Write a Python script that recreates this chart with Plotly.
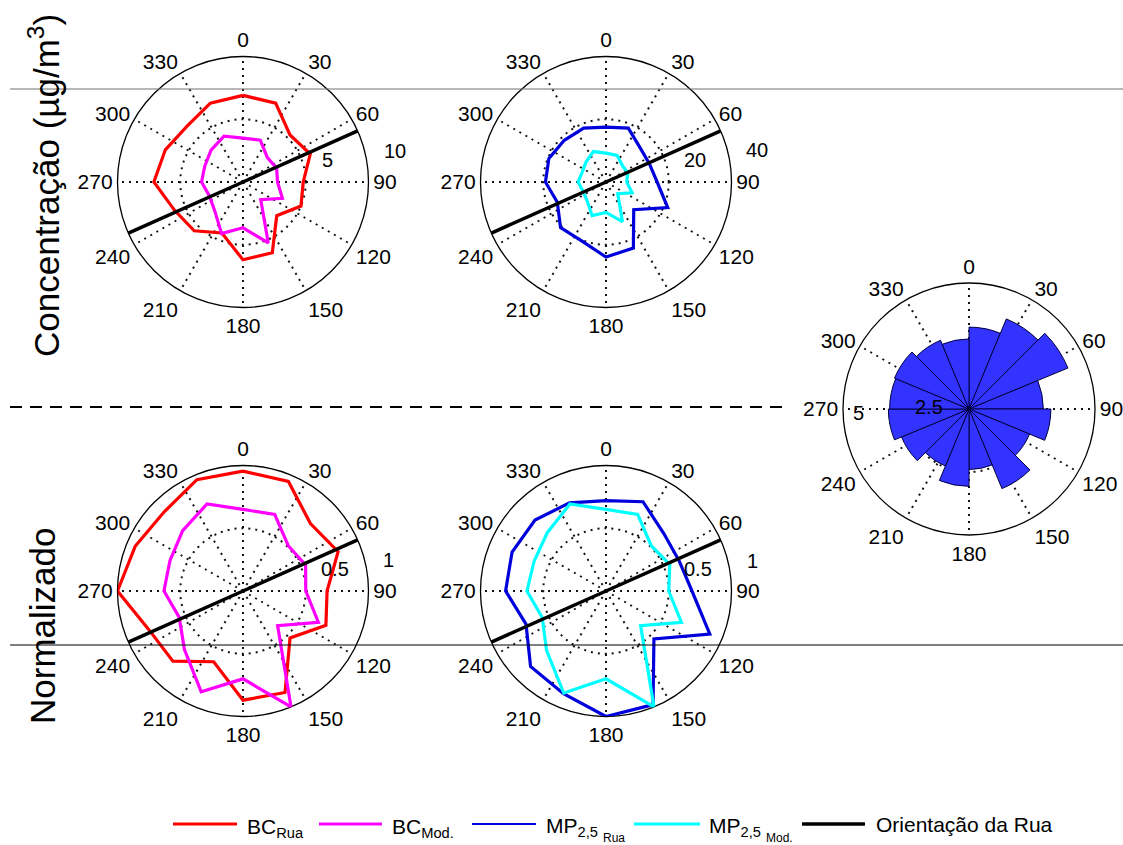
import plotly.graph_objects as go

# Wind directions (degrees, clockwise from north)
directions = [0, 22.5, 45, 67.5, 90, 112.5, 135, 157.5,
              180, 202.5, 225, 247.5, 270, 292.5, 315, 337.5]

# Mean concentrations by wind direction (µg/m3)
bc_rua_conc = [6.9, 6.8, 5.3, 5.8, 4.8, 5.0, 3.8, 6.1, 6.2, 4.4, 5.5, 5.9, 7.1, 6.7, 6.3, 6.8]
bc_mod_conc = [3.5, 3.6, 2.75, 2.9, 2.75, 3.4, 2.0, 5.26, 3.65, 4.45, 3.2, 2.9, 3.3, 3.3, 3.6, 3.95]
mp_rua_conc = [17.5, 18.6, 15.4, 15.0, 16.3, 21.3, 12.5, 22.8, 23.9, 20.3, 20.5, 16.8, 19.3, 19.7, 18.8, 18.6]
mp_mod_conc = [9.2, 9.2, 7.4, 7.5, 6.6, 9.0, 5.3, 13.7, 9.7, 11.6, 8.5, 7.9, 8.9, 8.2, 9.0, 10.5]

# Normalised values (fraction of each series' maximum)
bc_rua_norm = [0.955, 0.945, 0.76, 0.82, 0.67, 0.715, 0.53, 0.875, 0.87, 0.61, 0.79, 0.81, 1.0, 0.93, 0.89, 0.96]
bc_mod_norm = [0.65, 0.66, 0.51, 0.54, 0.50, 0.65, 0.39, 1.0, 0.70, 0.87, 0.66, 0.55, 0.63, 0.63, 0.68, 0.75]
mp_rua_norm = [0.72, 0.77, 0.65, 0.63, 0.685, 0.895, 0.54, 0.98, 1.0, 0.885, 0.85, 0.69, 0.80, 0.81, 0.80, 0.76]
mp_mod_norm = [0.65, 0.66, 0.51, 0.55, 0.50, 0.65, 0.39, 1.0, 0.70, 0.88, 0.67, 0.55, 0.63, 0.62, 0.66, 0.75]

# Wind rose: frequency per 22.5-degree sector
rose_centres = [11.25, 33.75, 56.25, 78.75, 101.25, 123.75, 146.25, 168.75,
                191.25, 213.75, 236.25, 258.75, 281.25, 303.75, 326.25, 348.75]
rose_freq = [3.25, 3.87, 4.25, 2.95, 3.25, 2.6, 3.42, 2.4,
             3.07, 2.45, 2.9, 3.2, 3.15, 3.2, 2.95, 2.78]

# Street orientation (degrees)
street_dir = [66, 246]

angle_ticks = [0, 30, 60, 90, 120, 150, 180, 210, 240, 270, 300, 330]

W, H = 1123, 845
FONT = "Liberation Sans, Arial, sans-serif"

RED, MAGENTA, BLUE, CYAN = "#ff0000", "#ff00ff", "#0000dd", "#00ffff"
GRID_DASH = "2px,5px"


def xp(x):
    return x / W


def yp(y):
    return 1 - y / H


panels = {
    "polar": dict(c=(243, 182), R=125.5, rmax=10, ring=5, labels=("5", "10")),
    "polar2": dict(c=(606, 182), R=125.5, rmax=40, ring=20, labels=("20", "40")),
    "polar3": dict(c=(243, 591), R=125.5, rmax=1, ring=0.5, labels=("0.5", "1")),
    "polar4": dict(c=(606, 591), R=125.5, rmax=1, ring=0.5, labels=("0.5", "1")),
    "polar5": dict(c=(969, 409), R=126, rmax=5, ring=2.5, labels=("2.5", "5")),
}


def closed(vals):
    return list(vals) + [vals[0]]


fig = go.Figure()


def line_trace(vals, color, subplot, width=3.2):
    fig.add_trace(go.Scatterpolar(
        r=closed(vals), theta=closed(directions), mode="lines",
        line=dict(color=color, width=width), subplot=subplot,
        showlegend=False, hoverinfo="skip"))


def street_trace(subplot, rmax):
    fig.add_trace(go.Scatterpolar(
        r=[rmax, 0, rmax], theta=[street_dir[0], street_dir[0], street_dir[1]],
        mode="lines", line=dict(color="black", width=3.5), subplot=subplot,
        showlegend=False, hoverinfo="skip"))


# Concentration panels
line_trace(bc_rua_conc, RED, "polar")
line_trace(bc_mod_conc, MAGENTA, "polar")
street_trace("polar", 10)
line_trace(mp_rua_conc, BLUE, "polar2")
line_trace(mp_mod_conc, CYAN, "polar2")
street_trace("polar2", 40)

# Normalised panels
line_trace(bc_rua_norm, RED, "polar3")
line_trace(bc_mod_norm, MAGENTA, "polar3")
street_trace("polar3", 1)
line_trace(mp_rua_norm, BLUE, "polar4")
line_trace(mp_mod_norm, CYAN, "polar4")
street_trace("polar4", 1)

# Wind rose
fig.add_trace(go.Barpolar(
    r=rose_freq, theta=rose_centres, width=[22.5] * len(rose_freq),
    marker=dict(color="#3333ff", line=dict(color="#000040", width=1)),
    subplot="polar5", showlegend=False, hoverinfo="skip"))

layout = dict(
    width=W, height=H, paper_bgcolor="white", plot_bgcolor="white",
    margin=dict(l=0, r=0, t=0, b=0), showlegend=False,
    font=dict(family=FONT, color="black", size=16),
)

annotations = []
for name, p in panels.items():
    cx, cy = p["c"]
    R = p["R"]
    layer = "above traces" if name == "polar5" else "below traces"
    layout[name] = dict(
        domain=dict(x=[xp(cx - R), xp(cx + R)], y=[yp(cy + R), yp(cy - R)]),
        bgcolor="rgba(0,0,0,0)",
        angularaxis=dict(
            rotation=90, direction="clockwise", tickmode="array",
            tickvals=angle_ticks, ticktext=[str(a) for a in angle_ticks],
            ticks="", showline=True, linecolor="black", linewidth=1.3,
            showgrid=True, gridcolor="#111111", griddash=GRID_DASH, gridwidth=1.7,
            tickfont=dict(size=21, family=FONT, color="black"),
            layer=layer,
        ),
        radialaxis=dict(
            range=[0, p["rmax"]], tickmode="array", tickvals=[p["ring"]],
            showticklabels=False, ticks="", showline=False,
            tickfont=dict(size=16),
            showgrid=True, gridcolor="#111111", griddash=GRID_DASH, gridwidth=1.7,
            layer=layer,
        ),
    )

# Radial scale labels
radial_label_pos = {
    "polar": [(327, 160), (395, 151)],
    "polar2": [(695, 160), (757, 150)],
    "polar3": [(335, 569), (388, 560)],
    "polar4": [(698, 569), (752, 561)],
    "polar5": [(929, 407), (858, 413)],
}
for name, pos in radial_label_pos.items():
    for txt, (x, y) in zip(panels[name]["labels"], pos):
        annotations.append(dict(
            x=xp(x), y=yp(y), xref="paper", yref="paper", text=txt,
            showarrow=False, font=dict(size=20, family=FONT, color="black"),
            xanchor="center", yanchor="middle"))

# Row titles
annotations.append(dict(
    x=xp(44), y=yp(186), xref="paper", yref="paper",
    text="Concentração (µg/m<sup>3</sup>)", textangle=-90, showarrow=False,
    font=dict(size=35, family=FONT, color="black"), xanchor="center", yanchor="middle"))
annotations.append(dict(
    x=xp(42), y=yp(626), xref="paper", yref="paper",
    text="Normalizado", textangle=-90, showarrow=False,
    font=dict(size=35, family=FONT, color="black"), xanchor="center", yanchor="middle"))

shapes = [
    # separators
    dict(type="line", xref="paper", yref="paper", x0=xp(10), x1=1, y0=yp(89), y1=yp(89),
         line=dict(color="#707070", width=1), layer="above"),
    dict(type="line", xref="paper", yref="paper", x0=xp(10), x1=1, y0=yp(645), y1=yp(645),
         line=dict(color="black", width=1), layer="above"),
    dict(type="line", xref="paper", yref="paper", x0=xp(10), x1=xp(790), y0=yp(407), y1=yp(407),
         line=dict(color="black", width=2, dash="12px,8px"), layer="above"),
]

# Legend drawn below the panels
LEG_Y = 824
legend_items = [
    (RED, 3.2, 173, 237),
    (MAGENTA, 3.2, 319, 382),
    (BLUE, 2.0, 472, 536),
    (CYAN, 3.2, 634, 700),
    ("black", 3.5, 802, 865),
]
for color, w, x0, x1 in legend_items:
    shapes.append(dict(type="line", xref="paper", yref="paper", x0=xp(x0), x1=xp(x1),
                       y0=yp(LEG_Y), y1=yp(LEG_Y), line=dict(color=color, width=w)))

LEG_FONT = dict(size=21, family=FONT, color="black")
SUB_FONT = dict(size=12, family=FONT, color="black")
legend_texts = [
    (245, LEG_Y + 4, "BC<sub>Rua</sub>", LEG_FONT),
    (390, LEG_Y + 4, "BC<sub>Mod.</sub>", LEG_FONT),
    (544, LEG_Y + 3, "MP<sub>2,5</sub>", LEG_FONT),
    (601, LEG_Y + 14, "Rua", SUB_FONT),
    (707, LEG_Y + 3, "MP<sub>2,5</sub>", LEG_FONT),
    (764, LEG_Y + 14, "Mod.", SUB_FONT),
    (874, LEG_Y, "Orientação da Rua", LEG_FONT),
]
for x, y, txt, f in legend_texts:
    annotations.append(dict(x=xp(x), y=yp(y), xref="paper", yref="paper", text=txt,
                            showarrow=False, font=f, xanchor="left", yanchor="middle"))

layout["annotations"] = annotations
layout["shapes"] = shapes
fig.update_layout(**layout)

fig.write_html("out.html")
